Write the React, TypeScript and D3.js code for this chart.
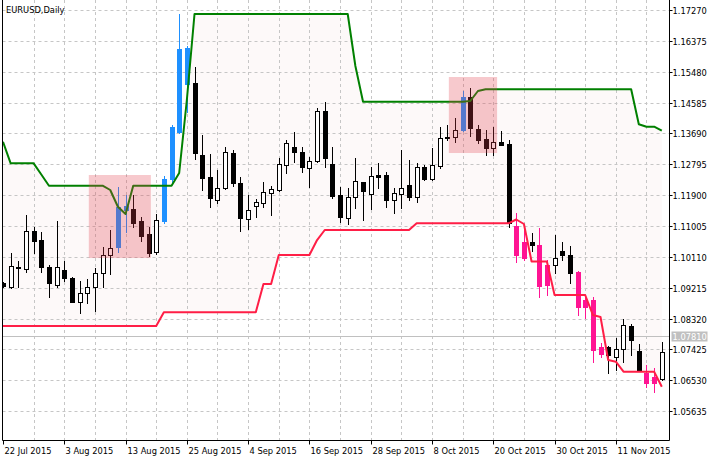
import React from 'react';
import * as d3 from 'd3';

const W = 720;
const H = 461;

const title = 'EURUSD,Daily';
const tickLabels = ['22 Jul 2015', '3 Aug 2015', '13 Aug 2015', '25 Aug 2015', '4 Sep 2015', '16 Sep 2015', '28 Sep 2015', '8 Oct 2015', '20 Oct 2015', '30 Oct 2015', '11 Nov 2015'];
const priceTicks = [1.17270, 1.16375, 1.15480, 1.14585, 1.13690, 1.12795, 1.11900, 1.11005, 1.10110, 1.09215, 1.08320, 1.07425, 1.06530, 1.05635];
const lastPrice = 1.07810;

const open = [
  1.09350, 1.09243, 1.09814, 1.09756, 1.10867, 1.10597, 1.09805, 1.09292, 1.09727, 1.09504,
  1.08807, 1.09051, 1.09225, 1.09631, 1.10162, 1.10386, 1.11584, 1.11488, 1.11157, 1.10763,
  1.10258, 1.11157, 1.12358, 1.13722, 1.16159, 1.15161, 1.13063, 1.12434, 1.11758, 1.12097,
  1.13113, 1.12260, 1.11198, 1.11584, 1.11662, 1.11970, 1.12048, 1.12773, 1.13287, 1.13142,
  1.12677, 1.12889, 1.14349, 1.12802, 1.11903, 1.11227, 1.11854, 1.12271, 1.11923, 1.12483,
  1.12483, 1.11758, 1.11932, 1.12193, 1.11854, 1.12706, 1.12367, 1.12744, 1.13594, 1.13577,
  1.13789, 1.14737, 1.13818, 1.13528, 1.13258, 1.13432, 1.13374, 1.11004, 1.10066, 1.10531,
  1.10452, 1.09292, 1.09872, 1.10278, 1.10162, 1.09660, 1.08654, 1.08857, 1.07290, 1.07502,
  1.07212, 1.07444, 1.08117, 1.07383, 1.06748, 1.06449, 1.06574,
];
const high = [
  1.09379, 1.10212, 1.09988, 1.11323, 1.10983, 1.10838, 1.09872, 1.11149, 1.09988, 1.09533,
  1.09408, 1.09457, 1.09794, 1.10403, 1.10888, 1.12144, 1.11903, 1.11903, 1.11273, 1.10966,
  1.11352, 1.12454, 1.13934, 1.17154, 1.16226, 1.15616, 1.13658, 1.13084, 1.12628, 1.13304,
  1.13208, 1.12416, 1.11903, 1.11778, 1.12289, 1.12164, 1.12968, 1.13498, 1.13739, 1.13287,
  1.13014, 1.14418, 1.14592, 1.13287, 1.12144, 1.12115, 1.12968, 1.12289, 1.12724, 1.12822,
  1.12579, 1.12097, 1.13208, 1.12918, 1.12822, 1.12773, 1.13258, 1.13884, 1.13934, 1.14128,
  1.14920, 1.14998, 1.13934, 1.13789, 1.13884, 1.13760, 1.13498, 1.11389, 1.10937, 1.10792,
  1.10960, 1.10017, 1.10742, 1.10548, 1.10423, 1.09698, 1.08952, 1.08952, 1.07600, 1.07522,
  1.07754, 1.08314, 1.08169, 1.07574, 1.06957, 1.06884, 1.07647,
];
const low = [
  1.09234, 1.09205, 1.09234, 1.09678, 1.10212, 1.09660, 1.08935, 1.09243, 1.09417, 1.08799,
  1.08488, 1.08761, 1.08546, 1.09243, 1.09602, 1.10258, 1.10829, 1.10966, 1.10577, 1.10133,
  1.10191, 1.11082, 1.12289, 1.13693, 1.14320, 1.12933, 1.12048, 1.11563, 1.11680, 1.12068,
  1.12164, 1.10867, 1.10908, 1.11256, 1.11546, 1.11323, 1.12028, 1.12532, 1.12869, 1.12579,
  1.12144, 1.12869, 1.12706, 1.11807, 1.11128, 1.11062, 1.11517, 1.11178, 1.11488, 1.12097,
  1.11563, 1.11372, 1.11517, 1.11758, 1.11709, 1.12338, 1.12338, 1.12677, 1.13498, 1.13449,
  1.13768, 1.13615, 1.13403, 1.13063, 1.13063, 1.13345, 1.10983, 1.09968, 1.10017, 1.10287,
  1.08952, 1.09002, 1.09649, 1.10003, 1.09350, 1.08422, 1.08326, 1.07067, 1.07212, 1.06730,
  1.06826, 1.07058, 1.07261, 1.06788, 1.06324, 1.06188, 1.06536,
];
const close = [
  1.09263, 1.09843, 1.09785, 1.10867, 1.10577, 1.09823, 1.09341, 1.09823, 1.09486, 1.08807,
  1.09051, 1.09243, 1.09631, 1.10162, 1.10374, 1.11563, 1.11468, 1.11099, 1.10713, 1.10212,
  1.11178, 1.12367, 1.13884, 1.16130, 1.15123, 1.13121, 1.12387, 1.11807, 1.12097, 1.13159,
  1.12242, 1.11227, 1.11468, 1.11709, 1.11999, 1.12068, 1.12794, 1.13403, 1.13159, 1.12706,
  1.12898, 1.14349, 1.12985, 1.11874, 1.11256, 1.11836, 1.12318, 1.12028, 1.12454, 1.12434,
  1.11758, 1.11952, 1.12097, 1.11854, 1.12706, 1.12367, 1.12773, 1.13565, 1.13565, 1.13789,
  1.14755, 1.13838, 1.13498, 1.13258, 1.13455, 1.13353, 1.11082, 1.10162, 1.10548, 1.10467,
  1.09277, 1.09872, 1.10066, 1.10162, 1.09631, 1.08662, 1.08857, 1.07406, 1.07502, 1.07247,
  1.07435, 1.08131, 1.07696, 1.06840, 1.06449, 1.06632, 1.07357,
];

const upBreakBars = [15, 16, 21, 22, 23, 24, 60];
const downBreakBars = [67, 68, 70, 71, 75, 76, 77, 78, 84, 85];

const upper = [
  1.13449, 1.12822, 1.12822, 1.12822, 1.12822, 1.12498, 1.12173, 1.12173, 1.12173, 1.12173,
  1.12173, 1.12173, 1.12173, 1.12173, 1.12048, 1.11563, 1.11352, 1.12173, 1.12173, 1.12173,
  1.12173, 1.12173, 1.12173, 1.12541, 1.14659, 1.17154, 1.17154, 1.17154, 1.17154, 1.17154,
  1.17154, 1.17154, 1.17154, 1.17154, 1.17154, 1.17154, 1.17154, 1.17154, 1.17154, 1.17154,
  1.17154, 1.17154, 1.17154, 1.17154, 1.17154, 1.17154, 1.15645, 1.14610, 1.14610, 1.14610,
  1.14610, 1.14610, 1.14610, 1.14610, 1.14610, 1.14610, 1.14610, 1.14610, 1.14610, 1.14610,
  1.14610, 1.14630, 1.14920, 1.14969, 1.14969, 1.14969, 1.14969, 1.14969, 1.14969, 1.14969,
  1.14969, 1.14969, 1.14969, 1.14969, 1.14969, 1.14969, 1.14969, 1.14969, 1.14969, 1.14969,
  1.14969, 1.14969, 1.14969, 1.13954, 1.13884, 1.13884, 1.13768,
];
const lower = [
  1.08103, 1.08103, 1.08103, 1.08103, 1.08103, 1.08103, 1.08103, 1.08103, 1.08103, 1.08103,
  1.08103, 1.08103, 1.08103, 1.08103, 1.08103, 1.08103, 1.08103, 1.08103, 1.08103, 1.08103,
  1.08103, 1.08500, 1.08500, 1.08500, 1.08500, 1.08500, 1.08500, 1.08500, 1.08500, 1.08500,
  1.08500, 1.08500, 1.08500, 1.08500, 1.09321, 1.09321, 1.10162, 1.10162, 1.10162, 1.10162,
  1.10162, 1.10597, 1.10888, 1.10888, 1.10888, 1.10888, 1.10888, 1.10888, 1.10888, 1.10888,
  1.10888, 1.10888, 1.10888, 1.10888, 1.11082, 1.11082, 1.11082, 1.11082, 1.11082, 1.11082,
  1.11082, 1.11082, 1.11082, 1.11082, 1.11082, 1.11082, 1.11082, 1.11192, 1.11062, 1.09975,
  1.09975, 1.09975, 1.09002, 1.09002, 1.09002, 1.09002, 1.09002, 1.08422, 1.08364, 1.07116,
  1.07067, 1.06777, 1.06777, 1.06777, 1.06777, 1.06777, 1.06341,
];

// highlighted zones: start bar, end bar, top price, bottom price
const zoneStart = [11.2, 58.2];
const zoneEnd = [19.3, 64.5];
const zoneTop = [1.12483, 1.15326];
const zoneBottom = [1.10075, 1.13121];

const FONT = 'DejaVu Sans';
const FS = 8.3;

export default function App() {
  const n = open.length;
  const x = d3.scaleLinear().domain([0, n - 1]).range([3, 661.8]);
  const y = d3.scaleLinear().domain([1.05635, 1.17270]).range([411.06, 10]);

  const left = 2.5;
  const right = 669.5;
  const bottom = 440.5;

  const area = d3
    .area<number>()
    .x((_, i) => x(i))
    .y0((_, i) => y(lower[i]))
    .y1((_, i) => y(upper[i]));
  const line = (arr: number[]) =>
    d3
      .line<number>()
      .x((_, i) => x(i))
      .y((d) => y(d))(arr) || '';

  const vGrid = d3.range(4, n, 4);
  const xTicks = tickLabels.map((t, k) => ({ t, i: k * 8 }));

  const candles = open.map((o, i) => {
    const c = close[i];
    const cx = Math.round(x(i));
    const yTop = Math.round(y(Math.max(o, c)));
    const yBot = Math.round(y(Math.min(o, c)));
    const yH = Math.round(y(high[i]));
    const yL = Math.round(y(low[i]));
    let kind = c >= o ? 'bull' : 'bear';
    if (upBreakBars.includes(i)) kind = 'up';
    if (downBreakBars.includes(i)) kind = 'down';
    const col = kind === 'up' ? '#1e90ff' : kind === 'down' ? '#ff1493' : '#000';
    const bh = Math.max(1, yBot - yTop);
    return (
      <g key={i}>
        <line x1={cx + 0.5} x2={cx + 0.5} y1={yH} y2={yL + 1} stroke={col} strokeWidth={1} />
        {kind === 'bull' ? (
          <rect x={cx - 1.5} y={yTop + 0.5} width={4} height={Math.max(1, bh)} fill="#fff" stroke="#000" strokeWidth={1} />
        ) : (
          <rect x={cx - 2} y={yTop} width={5} height={bh + 1} fill={col} />
        )}
      </g>
    );
  });

  const lpY = Math.round(y(lastPrice)) + 0.5;

  return (
    <svg
      width={W}
      height={H}
      style={{ position: 'absolute', left: 0, top: 0, background: '#fff' }}
      fontFamily={FONT}
    >
      <defs>
        <clipPath id="plot">
          <rect x={3} y={0} width={666} height={440} />
        </clipPath>
      </defs>
      <rect x={0} y={0} width={W} height={H} fill="#fff" />
      <g clipPath="url(#plot)">
        <path d={area(open) || ''} fill="#fdf9f9" />
        {priceTicks.map((p) => (
          <line key={p} x1={left} x2={right} y1={Math.round(y(p)) + 0.5} y2={Math.round(y(p)) + 0.5} stroke="#c6c6c6" strokeDasharray="3,3" />
        ))}
        {vGrid.map((i) => (
          <line key={i} x1={Math.round(x(i)) + 0.5} x2={Math.round(x(i)) + 0.5} y1={0} y2={bottom} stroke="#c6c6c6" strokeDasharray="3,3" />
        ))}
        <line x1={left} x2={right} y1={lpY} y2={lpY} stroke="#c0c0c0" strokeWidth={1} />
        {candles}
        <path d={line(upper)} fill="none" stroke="#008000" strokeWidth={2} strokeLinejoin="round" />
        <path d={line(lower)} fill="none" stroke="#ff1e46" strokeWidth={2} strokeLinejoin="round" />
        {zoneStart.map((s, k) => (
          <rect
            key={k}
            x={x(s)}
            y={y(zoneTop[k])}
            width={x(zoneEnd[k]) - x(s)}
            height={y(zoneBottom[k]) - y(zoneTop[k])}
            fill="rgb(225,60,75)"
            fillOpacity={0.28}
          />
        ))}
      </g>
      <line x1={left} x2={left} y1={0} y2={bottom} stroke="#000" />
      <line x1={left} x2={right} y1={bottom} y2={bottom} stroke="#000" />
      <line x1={right} x2={right} y1={0} y2={bottom} stroke="#000" />
      {priceTicks.map((p) => {
        const yy = Math.round(y(p)) + 0.5;
        return (
          <g key={p}>
            <line x1={right} x2={right + 3} y1={yy} y2={yy} stroke="#000" />
            <text x={672.5} y={yy + 3.1} fontSize={FS} fill="#000">
              {p.toFixed(5)}
            </text>
          </g>
        );
      })}
      <rect x={671.5} y={lpY - 5} width={36} height={10} fill="#c0c0c0" />
      <text x={672.5} y={lpY + 3.1} fontSize={FS} fill="#fff">
        {lastPrice.toFixed(5)}
      </text>
      {xTicks.map(({ t, i }) => {
        const xx = Math.round(x(i)) + 0.5;
        return (
          <g key={t}>
            <line x1={xx} x2={xx} y1={bottom} y2={bottom + 4} stroke="#000" />
            <text x={xx + 1} y={453.5} fontSize={FS} fill="#000">
              {t}
            </text>
          </g>
        );
      })}
      <text x={6} y={12.5} fontSize={FS} fill="#000">
        {title}
      </text>
    </svg>
  );
}
